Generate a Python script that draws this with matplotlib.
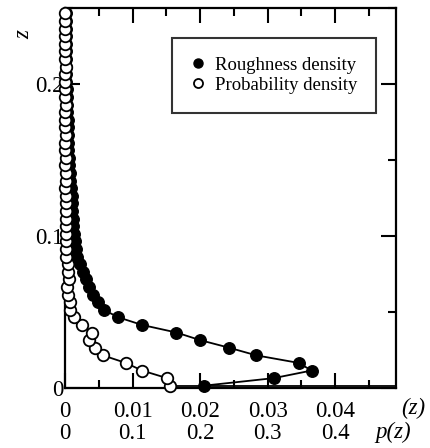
import matplotlib
matplotlib.use("Agg")
import matplotlib.pyplot as plt
from matplotlib.lines import Line2D
from matplotlib.ticker import MultipleLocator

plt.rcParams['font.family'] = ['Liberation Serif', 'DejaVu Serif']

# z grid (shared by both series), bottom to top
z = [0.0015, 0.0065, 0.0115, 0.0165, 0.0215, 0.0265, 0.0315, 0.0365, 0.0415, 0.0465,
     0.0515, 0.0565, 0.0615, 0.0665, 0.0715, 0.0765, 0.0815, 0.0865, 0.0915, 0.0965,
     0.1015, 0.1065, 0.1115, 0.1165, 0.1215, 0.1265, 0.1315, 0.1365, 0.1415, 0.1465,
     0.1515, 0.1565, 0.1615, 0.1665, 0.1715, 0.1765, 0.1815, 0.1865, 0.1915, 0.1965,
     0.2015, 0.2065, 0.2115, 0.2165, 0.2215, 0.2265, 0.2315, 0.2365, 0.2415, 0.2465]

# roughness density (filled)
rough = [0.0205, 0.0309, 0.0365, 0.0346, 0.0283, 0.0243, 0.0200, 0.0165, 0.0114, 0.0079,
         0.0057, 0.0049, 0.0042, 0.0035, 0.0031, 0.0027, 0.0022, 0.0018, 0.0016, 0.0015,
         0.0013, 0.0012, 0.0012, 0.0011, 0.0011, 0.0010, 0.0009, 0.0008, 0.0007, 0.0006,
         0.0006, 0.0005, 0.0005, 0.0004, 0.0004, 0.0004, 0.0003, 0.0003, 0.0003, 0.0003,
         0.0002, 0.0002, 0.0002, 0.0002, 0.0002, 0.0001, 0.0001, 0.0001, 0.0001, 0.0001]

# probability density (open), in units of the upper x scale (p/10)
prob = [0.0155, 0.0151, 0.0114, 0.0090, 0.0056, 0.0045, 0.0035, 0.0040, 0.0025, 0.0013,
        0.0008, 0.0007, 0.0005, 0.0003, 0.0006, 0.0005, 0.0005, 0.0002, 0.0001, 0.0001,
        0.0002, 0.0001, 0.0001, 0.0001, 0.0001, 0.0001, 0.0000, 0.0001, 0.0001, 0.0000,
        0.0001, 0.0000, 0.0000, 0.0001, 0.0000, 0.0000, 0.0000, 0.0001, 0.0000, 0.0000,
        0.0000, 0.0000, 0.0001, 0.0000, 0.0000, 0.0000, 0.0000, 0.0000, 0.0000, 0.0000]
# tail of the open curve runs off the right edge at the lowest z
prob_tail_x = [0.06, prob[0]]
prob_tail_z = [z[0], z[0]]

xticks = [0, 0.01, 0.02, 0.03, 0.04]
xticklabels = ['0', '0.01', '0.02', '0.03', '0.04']
pticks = [0, 0.1, 0.2, 0.3, 0.4]
pticklabels = ['0', '0.1', '0.2', '0.3', '0.4']
yticks = [0, 0.1, 0.2]
yticklabels = ['0', '0.1', '0.2']

fig = plt.figure(figsize=(4.3, 4.48), dpi=100)
ax = fig.add_axes([0.1512, 0.1339, 0.7698, 0.8482])

ax.plot(rough, z, '-o', color='black', lw=1.3, ms=8.3, mfc='black', mec='black',
        zorder=3, clip_on=False)
ax.plot(prob_tail_x, prob_tail_z, '-', color='black', lw=1.3, zorder=4)
ax.plot(prob, z, '-o', color='black', lw=1.3, ms=8.3, mfc='white', mec='black',
        mew=1.3, zorder=4, clip_on=False)

ax.set_xlim(0, 0.049)
ax.set_ylim(0, 0.25)
ax.set_xticks(xticks)
ax.set_xticklabels(xticklabels)
ax.set_yticks(yticks)
ax.set_yticklabels(yticklabels)
ax.xaxis.set_minor_locator(MultipleLocator(0.005))
ax.yaxis.set_minor_locator(MultipleLocator(0.05))
ax.tick_params(which='both', direction='in', top=True, right=True, width=1.5,
               labelsize=16.5)
ax.tick_params(which='major', length=11)
ax.tick_params(which='minor', length=6)
ax.tick_params(axis='x', pad=9)
ax.tick_params(axis='y', pad=1)
for s in ax.spines.values():
    s.set_linewidth(1.6)

sec = ax.secondary_xaxis(-0.08, functions=(lambda x: x * 10, lambda p: p / 10))
sec.set_xticks(pticks)
sec.set_xticklabels(pticklabels)
sec.tick_params(length=0, labelsize=16.5, pad=3)
sec.spines['bottom'].set_visible(False)

fig.text(413 / 430, 1 - 408 / 448, '(z)', fontsize=16.5, style='italic',
         ha='center', va='center')
fig.text(393 / 430, 1 - 432 / 448, 'p(z)', fontsize=16.5, style='italic',
         ha='center', va='center')
fig.text(24 / 430, 1 - 35 / 448, 'z', fontsize=16.5, style='italic', rotation=90,
         ha='center', va='center')

handles = [Line2D([], [], ls='none', marker='o', ms=6.5, mfc='black', mec='black'),
           Line2D([], [], ls='none', marker='o', ms=6.5, mfc='white', mec='black', mew=1.3)]
leg = ax.legend(handles, ['Roughness density', 'Probability density'],
                loc='upper right', bbox_to_anchor=(0.94, 0.921), borderaxespad=0,
                fontsize=13.5, frameon=True, fancybox=False, edgecolor='black',
                borderpad=1.0, labelspacing=0.15, handlelength=0.8,
                handletextpad=0.5)
leg.get_frame().set_linewidth(1.5)

fig.savefig('out.png', dpi=100)
